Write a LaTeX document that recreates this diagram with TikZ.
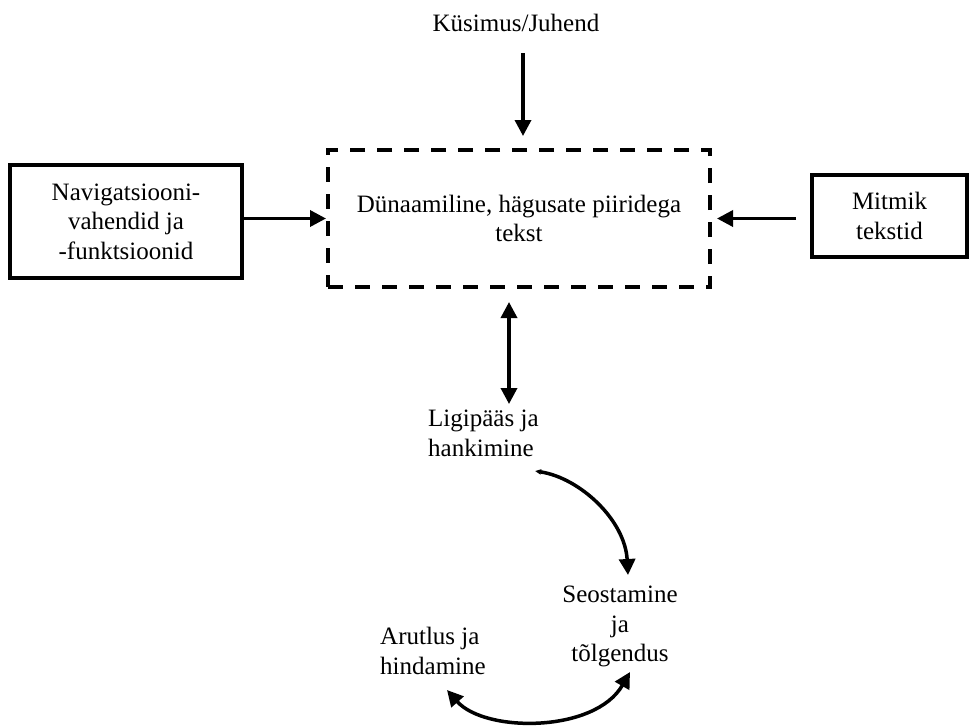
\documentclass[tikz,border=0pt]{standalone}
\usepackage{fontspec}
\setmainfont{Liberation Serif}
\usetikzlibrary{arrows.meta}
\begin{document}
\begin{tikzpicture}[x=1pt,y=-1pt,
  every node/.style={font=\fontsize{25}{29.5}\selectfont, inner sep=0pt},
  box/.style={draw, line width=4pt, align=center},
  arr/.style={line width=3.5pt, -{Triangle[length=16pt,width=16pt]}},
  dbl/.style={line width=3.5pt, {Triangle[length=16pt,width=16pt]}-{Triangle[length=16pt,width=16pt]}}]
\useasboundingbox (0,0) rectangle (971,725);

% boxes
\node[box, minimum width=232pt, minimum height=113pt] (nav) at (126,221.5)
  {Navigatsiooni-\\vahendid ja\\-funktsioonid};
\node[box, dash pattern=on 15pt off 12pt, minimum width=382pt, minimum height=137pt] (dyn) at (519,218.5)
  {Dünaamiline, hägusate piiridega\\tekst};
\node[box, minimum width=155pt, minimum height=82pt] (mit) at (889.5,216)
  {Mitmik\\tekstid};

% free labels
\node[anchor=base] (q) at (516,32) {Küsimus/Juhend};
\node[anchor=north west, align=left] (lig) at (428,410) {Ligipääs ja\\hankimine};
\node[anchor=north, align=center] (seo) at (620,586) {Seostamine\\ja\\tõlgendus};
\node[anchor=north west, align=left] (aru) at (380,627) {Arutlus ja\\hindamine};

% straight connectors
\coordinate (qa) at ([xshift=7pt,yshift=-21pt]q.south);
\draw[arr, shorten >=12pt] (qa) -- (qa |- dyn.north);
\draw[arr] (nav.east |- dyn.west) -- (dyn.west);
\draw[arr, shorten <=14pt, shorten >=5pt] (mit.west |- dyn.east) -- (dyn.east);
\coordinate (da) at ([xshift=-10pt]dyn.south);
\draw[dbl, shorten <=13pt, shorten >=6pt] (da) -- (da |- lig.north);

% cycle arcs
\coordinate (c1a) at (535,471);
\coordinate (c1b) at (628,575);
\draw[line width=3.5pt, {Triangle[length=6pt,width=5pt]}-{Triangle[length=16pt,width=16pt]}]
  (c1a) .. controls (580,478) and (625,520) .. (c1b);
\coordinate (c2a) at (447,690);
\coordinate (c2b) at (630,672);
\draw[dbl] (c2a) .. controls (485,733) and (595,733) .. (c2b);
\end{tikzpicture}
\end{document}
